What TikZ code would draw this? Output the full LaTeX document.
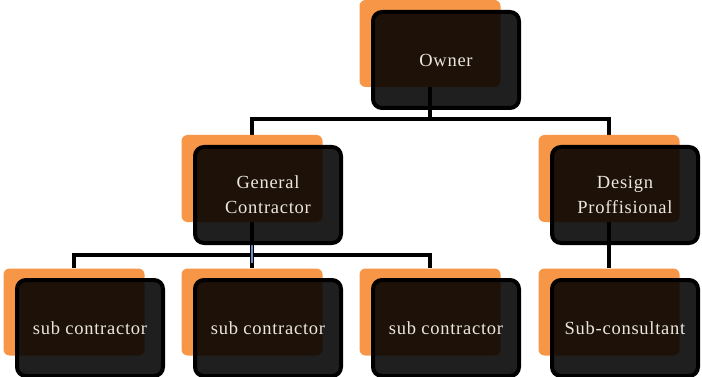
\documentclass[tikz,border=0pt]{standalone}
\usepackage{fontspec}
\setmainfont{Liberation Serif}
\usetikzlibrary{backgrounds}
\definecolor{tabcolor}{HTML}{F79646}
\definecolor{labelcolor}{HTML}{EAE6E0}
\definecolor{markcolor}{HTML}{6A8FC8}
\begin{document}
\begin{tikzpicture}[x=1pt,y=-1pt,
    tab/.style={fill=tabcolor, rounded corners=6pt, inner sep=0pt,
        minimum width=141pt, minimum height=87pt},
    card/.style={draw=black, line width=4pt, fill=black, fill opacity=0.88,
        text opacity=1, rounded corners=9pt, inner sep=0pt,
        minimum width=146pt, minimum height=96pt, text=labelcolor, align=center,
        font=\fontsize{18.5}{25}\selectfont\addfontfeatures{LetterSpace=4}},
    link/.style={line width=4.5pt}]
\useasboundingbox (0,0) rectangle (702,377);
% top level
\node[tab] (ownertab) at (430,43.5) {};
\node[card] (owner) at (446,60) {Owner};
% second level
\node[tab] (gctab) at (252,178.5) {};
\node[card] (gc) at (268,195) {General\\Contractor};
\node[tab] (dptab) at (609,178.5) {};
\node[card] (dp) at (625,195) {Design\\Proffisional};
% third level
\foreach \x/\n in {90/a,268/b,446/c}{
    \node[tab] (sub\n tab) at (\x-16,312) {};
    \node[card] (sub\n) at (\x,328) {sub contractor};
}
\node[tab] (sctab) at (609,312) {};
\node[card] (sc) at (625,328) {Sub-consultant};
% connectors go behind the boxes
\begin{pgfonlayer}{background}
\draw[link] (ownertab.south) -- ++(0,32) -| (gctab.north);
\draw[link] (ownertab.south) -- ++(0,32) -| (dptab.north);
\foreach \n in {a,b,c}
    \draw[link] (gctab.south) -- ++(0,33) -| (sub\n tab.north);
\draw[line width=2.5pt, markcolor] (gctab.south |- gc.south) -- ++(0,18);
\draw[link] (dptab.south) -- (sctab.north);
\end{pgfonlayer}
\end{tikzpicture}
\end{document}
